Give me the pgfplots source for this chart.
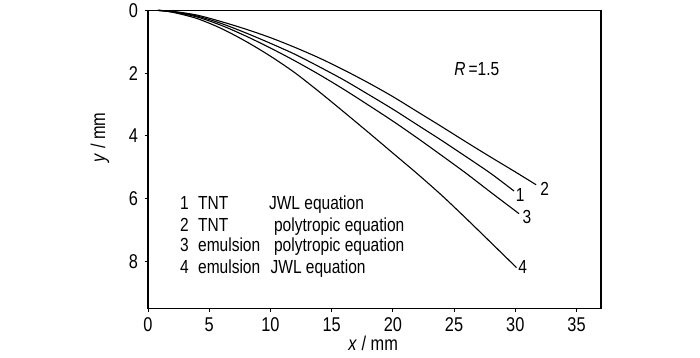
\documentclass[border=0pt]{standalone}
\usepackage{fontspec}
\setmainfont{Liberation Sans}[FakeStretch=0.82]
\usepackage{pgfplots}
\pgfplotsset{compat=1.18}
\begin{document}
\begin{tikzpicture}
\begin{axis}[
  at={(148bp,49bp)}, anchor=south west,
  scale only axis, width=453bp, height=298bp,
  xmin=0, xmax=37, ymin=0, ymax=9.5, y dir=reverse,
  xtick={0,5,...,35}, ytick={0,2,4,6,8},
  axis line style={line width=1.2bp},
  tick style={line width=1bp, black},
  tick align=outside, major tick length=3.5bp,
  xtick pos=bottom, ytick pos=left,
  /pgf/number format/assume math mode=true,
  ticklabel style={font=\fontsize{20}{20}\selectfont},
  xticklabel style={yshift=-2bp},
  yticklabel style={xshift=-3bp},
  xlabel={\textit{x} / mm},
  ylabel={\textit{y} / mm},
  label style={font=\fontsize{20}{20}\selectfont},
  xlabel style={at={(axis description cs:0.497,0)}, anchor=center, yshift=-35bp},
  ylabel style={at={(axis description cs:-0.106,0.574)}, anchor=center},
  clip=false,
]
% curve 1: TNT JWL
\addplot[black, line width=1.1bp, mark=none, smooth, tension=0.5] coordinates {(0.8,0) (2,0.04) (4,0.18) (6,0.42) (8,0.72) (10,1.05) (12,1.4) (14,1.8) (16,2.22) (18,2.68) (20,3.15) (22,3.65) (24,4.15) (26,4.67) (28,5.2) (29.9,5.76)};
% curve 2: TNT polytropic
\addplot[black, line width=1.1bp, mark=none, smooth, tension=0.5] coordinates {(0.8,0) (2,0.03) (4,0.15) (6,0.36) (8,0.6) (10,0.87) (12,1.18) (14,1.52) (16,1.9) (18,2.31) (20,2.75) (22,3.23) (24,3.71) (26,4.2) (28,4.68) (30,5.15) (31.7,5.56)};
% curve 3: emulsion polytropic
\addplot[black, line width=1.1bp, mark=none, smooth, tension=0.5] coordinates {(0.8,0) (2,0.05) (4,0.21) (6,0.48) (8,0.82) (10,1.2) (12,1.61) (14,2.05) (16,2.52) (18,3.02) (20,3.53) (22,4.07) (24,4.63) (26,5.2) (28,5.8) (30.3,6.48)};
% curve 4: emulsion JWL
\addplot[black, line width=1.1bp, mark=none, smooth, tension=0.5] coordinates {(0.8,0) (2,0.06) (4,0.26) (6,0.58) (8,0.99) (10,1.46) (12,1.99) (14,2.6) (16,3.24) (18,3.89) (20,4.55) (22,5.21) (24,5.9) (26,6.64) (28,7.4) (30.1,8.2)};
\begin{scope}[every node/.style={font=\fontsize{19}{19}\selectfont, inner sep=0pt}]
\node at (axis cs:32.4,5.70) {2};
\node at (axis cs:30.4,5.90) {1};
\node at (axis cs:30.95,6.60) {3};
\node at (axis cs:30.6,8.17) {4};
\node[anchor=west] at (axis cs:25.0,1.87) {\textit{R}\,=1.5};
\node[anchor=base west] at (axis cs:2.61,6.35) {1};
\node[anchor=base west] at (axis cs:4.08,6.35) {TNT};
\node[anchor=base west] at (axis cs:9.87,6.35) {JWL equation};
\node[anchor=base west] at (axis cs:2.61,7.05) {2};
\node[anchor=base west] at (axis cs:4.08,7.05) {TNT};
\node[anchor=base west] at (axis cs:10.28,7.05) {polytropic equation};
\node[anchor=base west] at (axis cs:2.61,7.68) {3};
\node[anchor=base west] at (axis cs:4.08,7.68) {emulsion};
\node[anchor=base west] at (axis cs:10.28,7.68) {polytropic equation};
\node[anchor=base west] at (axis cs:2.61,8.38) {4};
\node[anchor=base west] at (axis cs:4.08,8.38) {emulsion};
\node[anchor=base west] at (axis cs:10.0,8.38) {JWL equation};
\end{scope}
\end{axis}
\path (0,0) rectangle (700bp,357bp);
\end{tikzpicture}
\end{document}
